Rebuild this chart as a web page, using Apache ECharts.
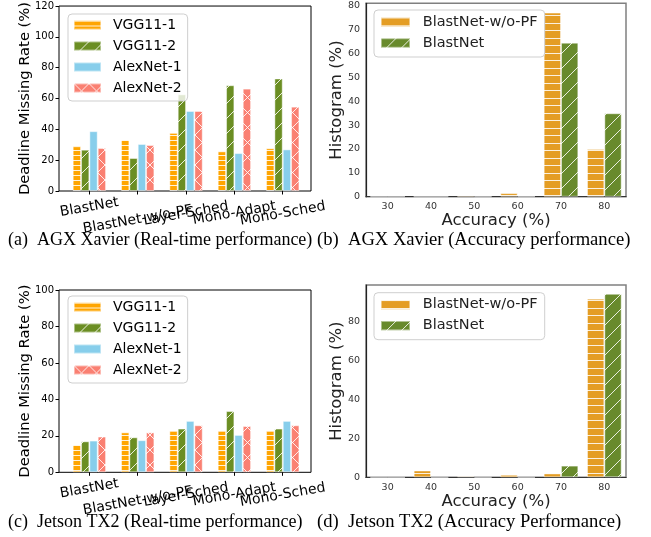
<!DOCTYPE html>
<html><head><meta charset="utf-8">
<script src="https://cdn.jsdelivr.net/npm/echarts@6/dist/echarts.min.js"></script>
<style>html,body{margin:0;padding:0;background:#fff}#c{width:651px;height:537px}</style>
</head><body><div id="c"></div>
<script>
// ---- data ----
const rtCategories = ['BlastNet', 'BlastNet-w/o-PF', 'Layer-Sched', 'Mono-Adapt', 'Mono-Sched'];
const rtSeriesNames = ['VGG11-1', 'VGG11-2', 'AlexNet-1', 'AlexNet-2'];
const agxVGG1 = [29, 33.3, 37.7, 25.7, 27.7];
const agxVGG2 = [26.8, 21.4, 62.7, 68.6, 73];
const agxAlex1 = [38.8, 30.5, 51.9, 24.6, 27];
const agxAlex2 = [27.9, 29.8, 51.9, 66.4, 54.7];
const tx2VGG1 = [15.2, 21.9, 22.7, 22.7, 22.7];
const tx2VGG2 = [17, 19.2, 24, 33.6, 24];
const tx2Alex1 = [17.4, 17.6, 28.2, 20.5, 28.2];
const tx2Alex2 = [19.6, 21.9, 25.8, 25.4, 25.8];
const accCategories = ['30', '40', '50', '60', '70', '80'];
const accSeriesNames = ['BlastNet-w/o-PF', 'BlastNet'];
const agxNoPF = [0, 0, 0.5, 1.5, 77.2, 20];
const agxBlast = [0, 0, 0, 0, 64.6, 35];
const tx2NoPF = [0, 3.5, 0.6, 1.3, 2, 91.7];
const tx2Blast = [0, 0, 0, 0, 6, 94.2];
const captions = [
  '(a)  AGX Xavier (Real-time performance)',
  '(b)  AGX Xavier (Accuracy performance)',
  '(c)  Jetson TX2 (Real-time performance)',
  '(d)  Jetson TX2 (Accuracy Performance)'
];

// ---- hatch patterns ----
function pattern(base, kind, nLines) {
  const s = 15;
  const c = document.createElement('canvas');
  c.width = s; c.height = s;
  const g = c.getContext('2d');
  g.fillStyle = base; g.fillRect(0, 0, s, s);
  g.strokeStyle = 'rgba(255,255,255,0.85)';
  g.lineWidth = 1;
  const line = (x1, y1, x2, y2) => { g.beginPath(); g.moveTo(x1, y1); g.lineTo(x2, y2); g.stroke(); };
  if (kind === 'h') {
    for (let k = 0; k < nLines; k++) { const y = Math.round(k * s / nLines) + 0.5; line(0, y, s, y); }
  }
  if (kind === '/' || kind === 'x') {
    line(0, s, s, 0); line(-2, 2, 2, -2); line(s - 2, s + 2, s + 2, s - 2);
  }
  if (kind === 'x') {
    line(0, 0, s, s); line(-2, s - 2, 2, s + 2); line(s - 2, -2, s + 2, 2);
  }
  return { image: c, repeat: 'repeat' };
}
const cOrange = pattern('#FFA500', 'h', 3);
const cGreen = pattern('#6B8E23', '/');
const cBlue = '#87CEEB';
const cSalmon = pattern('#FA8072', 'x');
const cOrange2 = pattern('#E49D24', 'h', 2);
const cGreen2 = pattern('#688A2C', '/');

const SANS = 'DejaVu Sans';
const edge = { borderColor: 'rgba(255,255,255,0.45)', borderWidth: 1 };

const measure = document.createElement('canvas').getContext('2d');
measure.font = '14px "DejaVu Sans"';
const ROT = 10, RAD = ROT * Math.PI / 180;

// x labels of the real-time panels: rotated, centred under the tick, pushed down by length
function rtLabel() {
  const rich = {};
  const m = 4;
  rtCategories.forEach((t, i) => {
    const L = measure.measureText(t).width;
    const c = 11 + 0.09 * L + 0.15 * Math.max(0, L - 60);
    const R0 = Math.tan(RAD);
    const k = 0.5 * Math.cos(RAD) + 0.5 * R0 * Math.sin(RAD);
    const P = Math.max(0, (c - m) / k);
    rich['p' + i] = { fontFamily: SANS, fontSize: 14, color: '#000', padding: [P, R0 * P, 0, 0] };
  });
  return {
    rotate: ROT, align: 'center', verticalAlign: 'middle', margin: m,
    interval: 0, hideOverlap: false,
    formatter: (v, i) => '{p' + i + '|' + v + '}', rich
  };
}

const frames = [
  { left: 59, top: 6, width: 252, height: 185 },
  { left: 59, top: 290, width: 252, height: 182.3 }
];
const dataGrids = [
  { left: 65.2, top: 6, width: 241.7, height: 185 },
  { left: 65.2, top: 290, width: 241.7, height: 182.3 }
];
const accGrids = [
  { left: 366, top: 3.3, width: 260, height: 193.4 },
  { left: 366, top: 285, width: 260, height: 192.3 }
];

const grid = [], xAxis = [], yAxis = [], series = [], legend = [], title = [];

// real-time panels
[[agxVGG1, agxVGG2, agxAlex1, agxAlex2, 120], [tx2VGG1, tx2VGG2, tx2Alex1, tx2Alex2, 100]].forEach((p, k) => {
  const fi = grid.length;
  grid.push(Object.assign({ show: true, borderColor: '#000', borderWidth: 1, backgroundColor: 'transparent' }, frames[k]));
  xAxis.push({ gridIndex: fi, type: 'value', min: 0, max: 1, show: false });
  yAxis.push({
    gridIndex: fi, type: 'value', min: 0, max: p[4], interval: 20,
    name: 'Deadline Missing Rate (%)', nameLocation: 'middle', nameGap: 26, nameMoveOverlap: false,
    nameTextStyle: { fontFamily: SANS, fontSize: 14.7, color: '#000' },
    axisLine: { show: false }, splitLine: { show: false },
    axisTick: { show: true, length: 3.5, lineStyle: { color: '#000' } },
    axisLabel: { fontFamily: SANS, fontSize: 10, color: '#000', margin: 5 }
  });
  const di = grid.length;
  grid.push(dataGrids[k]);
  xAxis.push({
    gridIndex: di, type: 'category', data: rtCategories,
    axisLine: { show: false },
    axisTick: { show: true, alignWithLabel: true, interval: 0, length: 3.5, lineStyle: { color: '#000' } },
    axisLabel: rtLabel()
  });
  yAxis.push({ gridIndex: di, type: 'value', min: 0, max: p[4], show: false, splitLine: { show: false } });
  const cols = [cOrange, cGreen, cBlue, cSalmon];
  rtSeriesNames.forEach((n, j) => {
    series.push({
      type: 'bar', name: n, xAxisIndex: di, yAxisIndex: di, data: p[j],
      barGap: 0, barCategoryGap: '31%',
      itemStyle: Object.assign({ color: cols[j] }, edge)
    });
  });
  legend.push({
    data: rtSeriesNames, orient: 'vertical', left: 68, top: k === 0 ? 14 : 296,
    icon: 'rect', itemWidth: 27, itemHeight: 9, itemGap: 5,
    padding: [3, 6, 5, 5], borderColor: '#cfcfcf', borderWidth: 1, borderRadius: 4,
    backgroundColor: 'rgba(255,255,255,0.8)', selectedMode: false,
    textStyle: { fontFamily: SANS, fontSize: 14, color: '#000', lineHeight: 16, padding: [0, 0, 0, 7] }
  });
});

// accuracy panels
[[agxNoPF, agxBlast, 81.1, 10], [tx2NoPF, tx2Blast, 98.7, 20]].forEach((p, k) => {
  const gi = grid.length;
  grid.push(Object.assign({ show: true, borderColor: '#808080', borderWidth: 1.5, backgroundColor: 'transparent' }, accGrids[k]));
  xAxis.push({
    gridIndex: gi, type: 'category', data: accCategories,
    name: 'Accuracy (%)', nameLocation: 'middle', nameGap: 16, nameMoveOverlap: false,
    nameTextStyle: { fontFamily: SANS, fontSize: 16.5, color: '#222' },
    axisLine: { show: true, lineStyle: { color: '#333', width: 1.2 } },
    axisTick: { show: false },
    axisLabel: { fontFamily: SANS, fontSize: 9.5, color: '#333', margin: 5 }
  });
  yAxis.push({
    gridIndex: gi, type: 'value', min: 0, max: p[2], interval: p[3],
    name: 'Histogram (%)', nameLocation: 'middle', nameGap: 21, nameMoveOverlap: false,
    nameTextStyle: { fontFamily: SANS, fontSize: 16.5, color: '#222' },
    axisLine: { show: true, lineStyle: { color: '#222', width: 1.2 } },
    axisTick: { show: false }, splitLine: { show: false },
    axisLabel: { fontFamily: SANS, fontSize: 9.5, color: '#333', margin: 6, showMaxLabel: false }
  });
  const cols = [cOrange2, cGreen2];
  accSeriesNames.forEach((n, j) => {
    series.push({
      type: 'bar', name: n, xAxisIndex: gi, yAxisIndex: gi, data: p[j],
      barGap: 0, barCategoryGap: '20%',
      itemStyle: Object.assign({ color: cols[j] }, edge)
    });
  });
  legend.push({
    data: accSeriesNames, orient: 'vertical', left: 374, top: k === 0 ? 10 : 292.7,
    icon: 'rect', itemWidth: 29, itemHeight: 9.3, itemGap: 5,
    padding: [4, 7, 6, 6], borderColor: '#cfcfcf', borderWidth: 1, borderRadius: 4,
    backgroundColor: 'rgba(255,255,255,0.8)', selectedMode: false,
    textStyle: { fontFamily: SANS, fontSize: 14.5, color: '#222', lineHeight: 16, padding: [0, 0, 0, 7.7] }
  });
});

const capPos = [[8, 231], [317, 231], [8, 513], [317, 513]];
captions.forEach((t, i) => {
  title.push({
    text: t, left: capPos[i][0], top: capPos[i][1], padding: 0,
    textStyle: { fontFamily: 'Liberation Serif', fontSize: i % 2 ? 18.6 : 18, fontWeight: 'normal', color: '#000' }
  });
});

const chart = echarts.init(document.getElementById('c'), null, { renderer: 'canvas' });
chart.setOption({ animation: false, backgroundColor: '#fff', title, grid, xAxis, yAxis, series, legend });
</script>
</body></html>
